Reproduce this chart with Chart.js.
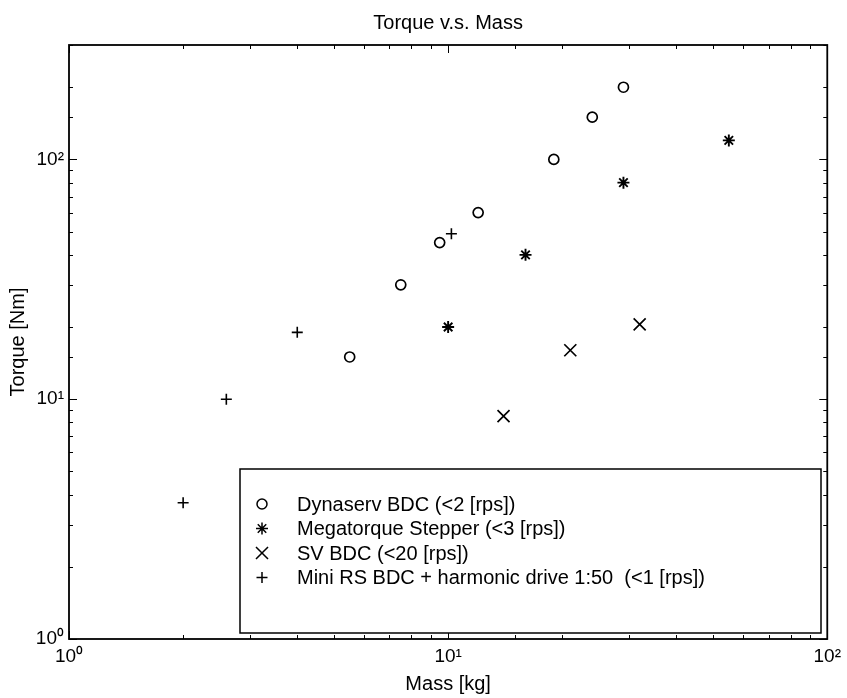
<!DOCTYPE html>
<html>
<head>
<meta charset="utf-8">
<script src="https://cdn.jsdelivr.net/npm/chart.js@4/dist/chart.umd.min.js"></script>
<style>
  html, body { margin: 0; padding: 0; background: #fff; }
  #wrap { width: 847px; height: 698px; }
</style>
</head>
<body>
<div id="wrap"><canvas id="graf"></canvas></div>
<script>
// data (mass in kg, torque in Nm)
const dynaMass = [5.5, 7.5, 9.5, 12, 19, 24, 29];
const dynaTorque = [15, 30, 45, 60, 100, 150, 200];
const megaMass = [10, 16, 29, 55];
const megaTorque = [20, 40, 80, 120];
const svMass = [14, 21, 32];
const svTorque = [8.5, 16, 20.5];
const miniMass = [2, 2.6, 4, 10.2];
const miniTorque = [3.7, 10, 19, 49];

const seriesNames = [
  'Dynaserv BDC (<2 [rps])',
  'Megatorque Stepper (<3 [rps])',
  'SV BDC (<20 [rps])',
  'Mini RS BDC + harmonic drive 1:50  (<1 [rps])'
];
const chartTitle = 'Torque v.s. Mass';
const xLabel = 'Mass [kg]';
const yLabel = 'Torque [Nm]';
const sup = { 0: '\u2070', 1: '\u00b9', 2: '\u00b2', 3: '\u00b3' };

const FONT = '"Liberation Sans", Arial, sans-serif';

function pts(xs, ys) {
  return xs.map((x, i) => ({ x: x, y: ys[i] }));
}

const markers = [
  { style: 'circle', radius: 5, width: 1.7 },
  { style: 'star', radius: 6, width: 1.9 },
  { style: 'crossRot', radius: 8.5, width: 1.7 },
  { style: 'cross', radius: 5.5, width: 1.6 }
];

const datasets = [
  pts(dynaMass, dynaTorque),
  pts(megaMass, megaTorque),
  pts(svMass, svTorque),
  pts(miniMass, miniTorque)
].map((d, i) => ({
  label: seriesNames[i],
  data: d,
  showLine: false,
  pointStyle: markers[i].style,
  pointRadius: markers[i].radius,
  pointHoverRadius: markers[i].radius,
  pointBorderWidth: markers[i].width,
  borderColor: '#000',
  backgroundColor: 'rgba(0,0,0,0)'
}));

function isDecade(v) {
  const l = Math.log10(v);
  return Math.abs(l - Math.round(l)) < 1e-9;
}

// box, inward ticks, title and legend drawn on top
const frame = {
  id: 'frame',
  afterDraw(chart) {
    const ctx = chart.ctx;
    const a = chart.chartArea;
    ctx.save();
    ctx.strokeStyle = '#000';
    ctx.lineWidth = 1.8;
    ctx.strokeRect(a.left, a.top, a.right - a.left, a.bottom - a.top);

    ctx.lineWidth = 1;
    const xs = chart.scales.x;
    xs.ticks.forEach(t => {
      const px = Math.round(xs.getPixelForValue(t.value)) + 0.5;
      const len = isDecade(t.value) ? 8 : 4;
      ctx.beginPath();
      ctx.moveTo(px, a.bottom); ctx.lineTo(px, a.bottom - len);
      ctx.moveTo(px, a.top); ctx.lineTo(px, a.top + len);
      ctx.stroke();
    });
    const ys = chart.scales.y;
    ys.ticks.forEach(t => {
      const py = Math.round(ys.getPixelForValue(t.value)) + 0.5;
      const len = isDecade(t.value) ? 8 : 4;
      ctx.beginPath();
      ctx.moveTo(a.left, py); ctx.lineTo(a.left + len, py);
      ctx.moveTo(a.right, py); ctx.lineTo(a.right - len, py);
      ctx.stroke();
    });

    // title
    ctx.fillStyle = '#000';
    ctx.font = '20px ' + FONT;
    ctx.textAlign = 'center';
    ctx.textBaseline = 'middle';
    ctx.fillText(chartTitle, (a.left + a.right) / 2, 23);

    // legend
    const box = { left: 240, top: 469, right: 821, bottom: 633 };
    ctx.fillStyle = '#fff';
    ctx.fillRect(box.left, box.top, box.right - box.left, box.bottom - box.top);
    ctx.lineWidth = 1.5;
    ctx.strokeRect(box.left, box.top, box.right - box.left, box.bottom - box.top);
    ctx.textAlign = 'left';
    ctx.font = '20px ' + FONT;
    chart.data.datasets.forEach((ds, i) => {
      const y = 504 + i * 24.5;
      ctx.fillStyle = 'rgba(0,0,0,0)';
      ctx.strokeStyle = '#000';
      Chart.helpers.drawPoint(ctx, {
        pointStyle: ds.pointStyle,
        radius: ds.pointRadius,
        borderWidth: ds.pointBorderWidth,
        rotation: 0
      }, 262, y);
      ctx.fillStyle = '#000';
      ctx.fillText(ds.label, 297, y + 1);
    });
    ctx.restore();
  }
};

const ctx = document.getElementById('graf').getContext('2d');
new Chart(ctx, {
  type: 'scatter',
  data: { datasets: datasets },
  options: {
    responsive: true,
    maintainAspectRatio: false,
    animation: false,
    events: [],
    layout: { padding: { top: 45, right: 16, left: 0, bottom: 0 } },
    plugins: {
      legend: { display: false },
      title: { display: false },
      tooltip: { enabled: false }
    },
    scales: {
      x: {
        type: 'logarithmic',
        min: 1,
        max: 100,
        grid: { display: false, drawTicks: false },
        border: { display: false },
        ticks: {
          autoSkip: false,
          maxRotation: 0,
          padding: 6,
          color: '#000',
          font: { family: FONT, size: 19 },
          callback: v => isDecade(v) ? '10' + sup[Math.round(Math.log10(v))] : ''
        },
        title: {
          display: true,
          text: xLabel,
          color: '#000',
          font: { family: FONT, size: 20 },
          padding: { top: 0, bottom: 2 }
        },
        afterFit: s => { s.height = 59; }
      },
      y: {
        type: 'logarithmic',
        min: 1,
        max: 300,
        grid: { display: false, drawTicks: false },
        border: { display: false },
        ticks: {
          autoSkip: false,
          padding: 5,
          color: '#000',
          font: { family: FONT, size: 19 },
          callback: v => isDecade(v) ? '10' + sup[Math.round(Math.log10(v))] : ''
        },
        title: {
          display: true,
          text: yLabel,
          color: '#000',
          font: { family: FONT, size: 20 },
          padding: { top: 6, bottom: 0 }
        },
        afterFit: s => { s.width = 69; }
      }
    }
  },
  plugins: [frame]
});
</script>
</body>
</html>
